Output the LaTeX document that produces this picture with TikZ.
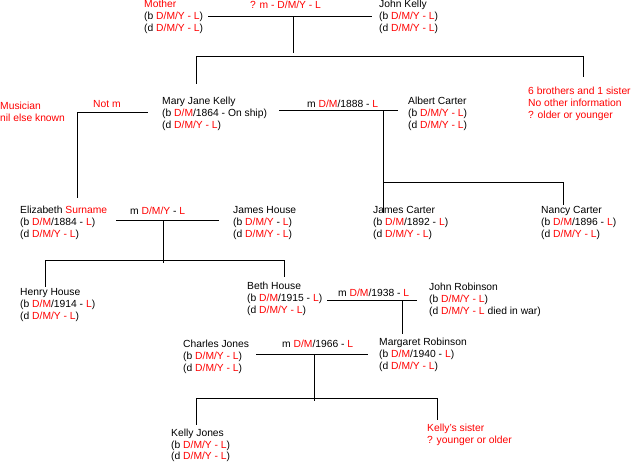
\documentclass[tikz,border=0pt]{standalone}
\usepackage{fontspec}
\setmainfont{Liberation Sans}
\newcommand{\rd}[1]{\textcolor{red}{#1}}

\begin{document}
\begin{tikzpicture}[
    x = 1pt, y = -1pt,
    person/.style = {
        anchor = base west, align = left, inner sep = 0pt,
        font = \fontsize{10.3}{12}\selectfont
    },
    note/.style = {person, text = red},
    rows2/.style = {yshift = -12pt},
    rows3/.style = {yshift = -24pt},
    link/.style = {line width = 1pt}
]
\useasboundingbox (0,0) rectangle (635,462);

% --- People and notes, placed by absolute coordinates (px, first baseline) ---
\node[person, rows3] (mother)  at (144,   8) {\rd{Mother}\\(b \rd{D/M/Y - L})\\(d \rd{D/M/Y - L})};
\node[note]          (mtop)    at (250,   9) {? m - D/M/Y - L};
\node[person, rows3] (jkelly)  at (379,   8) {John Kelly\\(b \rd{D/M/Y - L})\\(d \rd{D/M/Y - L})};

\node[note, rows3]   (sibs)    at (528,  95) {6 brothers and 1 sister\\No other information\\? older or younger};
\node[note, rows2]   (musician) at (0,  110) {Musician\\nil else known};
\node[note]          (notm)    at (93,  108) {Not m};
\node[person, rows3] (mary)    at (162, 105) {Mary Jane Kelly\\(b \rd{D/M}/1864 - On ship)\\(d \rd{D/M/Y - L})};
\node[person]        (m1888)   at (307, 108) {m \rd{D/M}/1888 - \rd{L}};
\node[person, rows3] (albert)  at (408, 105) {Albert Carter\\(b \rd{D/M/Y - L})\\(d \rd{D/M/Y - L})};

\node[person, rows3] (eliz)    at (20,  214) {Elizabeth \rd{Surname}\\(b \rd{D/M}/1884 - \rd{L})\\(d \rd{D/M/Y - L})};
\node[person]        (meh)     at (130, 215) {m \rd{D/M/Y} - \rd{L}};
\node[person, rows3] (jhouse)  at (233, 214) {James House\\(b \rd{D/M/Y} - \rd{L})\\(d \rd{D/M/Y - L})};
\node[person, rows3] (jcarter) at (373, 214) {James Carter\\(b \rd{D/M}/1892 - \rd{L})\\(d \rd{D/M/Y - L})};
\node[person, rows3] (ncarter) at (541, 214) {Nancy Carter\\(b \rd{D/M}/1896 - \rd{L})\\(d \rd{D/M/Y - L})};

\node[person, rows3] (henry)   at (20,  296) {Henry House\\(b \rd{D/M}/1914 - \rd{L})\\(d \rd{D/M/Y - L})};
\node[person, rows3] (beth)    at (247, 290) {Beth House\\(b \rd{D/M}/1915 - \rd{L})\\(d \rd{D/M/Y - L})};
\node[person]        (m1938)   at (338, 297) {m \rd{D/M}/1938 - \rd{L}};
\node[person, rows3] (jrobin)  at (429, 291) {John Robinson\\(b \rd{D/M/Y - L})\\(d \rd{D/M/Y - L} died in war)};

\node[person, rows3] (charles) at (183, 348) {Charles Jones\\(b \rd{D/M/Y - L})\\(d \rd{D/M/Y - L})};
\node[person]        (m1966)   at (282, 348) {m \rd{D/M}/1966 - \rd{L}};
\node[person, rows3] (marg)    at (379, 346) {Margaret Robinson\\(b \rd{D/M}/1940 - \rd{L})\\(d \rd{D/M/Y - L})};

\node[person, rows3] (kelly)   at (171, 436) {Kelly Jones\\(b \rd{D/M/Y - L})\\(d \rd{D/M/Y - L})};
\node[note, rows2]   (ksister) at (427, 431) {Kelly's sister\\? younger or older};

% --- Line ends and junctions ---
\coordinate (top-w)   at (208,  17);
\coordinate (top-e)   at (372,  17);
\coordinate (top-c)   at (293,  17);
\coordinate (top-d)   at (293,  53);
\coordinate (kids-l)  at (196,  57);
\coordinate (kids-r)  at (583,  57);
\coordinate (to-mary) at (196,  84);
\coordinate (to-sibs) at (583,  77);

\coordinate (nm-w)    at (77,  113);
\coordinate (nm-e)    at (148, 113);
\coordinate (to-eliz) at (77,  198);

\coordinate (ac-w)    at (279, 111);
\coordinate (ac-e)    at (398, 111);
\coordinate (ac-c)    at (383, 111);
\coordinate (ac-j)    at (383, 183);
\coordinate (to-jc)   at (383, 213);
\coordinate (ac-r)    at (563, 183);
\coordinate (to-nc)   at (563, 205);

\coordinate (eh-w)    at (116, 221);
\coordinate (eh-e)    at (219, 221);
\coordinate (eh-c)    at (163, 221);
\coordinate (eh-d)    at (163, 263);
\coordinate (hk-l)    at (45,  261);
\coordinate (hk-r)    at (284, 261);
\coordinate (to-henry) at (45, 287);
\coordinate (to-beth) at (284, 277);

\coordinate (br-w)    at (327, 301);
\coordinate (br-e)    at (417, 301);
\coordinate (br-c)    at (402, 301);
\coordinate (to-marg) at (402, 334);

\coordinate (cm-w)    at (256, 355);
\coordinate (cm-e)    at (368, 355);
\coordinate (cm-c)    at (314, 355);
\coordinate (cm-d)    at (314, 401);
\coordinate (jk-l)    at (196, 399);
\coordinate (jk-r)    at (437, 399);
\coordinate (to-kelly) at (196, 425);
\coordinate (to-ks)   at (437, 420);

% --- Lines ---
\draw[link] (top-w) -- (top-e);
\draw[link] (top-c) -- (top-d);
\draw[link] (to-mary) -- (kids-l) -- (kids-r) -- (to-sibs);

\draw[link] (nm-w) -- (nm-e);
\draw[link] (nm-w) -- (to-eliz);

\draw[link] (ac-w) -- (ac-e);
\draw[link] (ac-c) -- (to-jc);
\draw[link] (ac-j) -- (ac-r) -- (to-nc);

\draw[link] (eh-w) -- (eh-e);
\draw[link] (eh-c) -- (eh-d);
\draw[link] (to-henry) -- (hk-l) -- (hk-r) -- (to-beth);

\draw[link] (br-w) -- (br-e);
\draw[link] (br-c) -- (to-marg);

\draw[link] (cm-w) -- (cm-e);
\draw[link] (cm-c) -- (cm-d);
\draw[link] (to-kelly) -- (jk-l) -- (jk-r) -- (to-ks);

\end{tikzpicture}
\end{document}
